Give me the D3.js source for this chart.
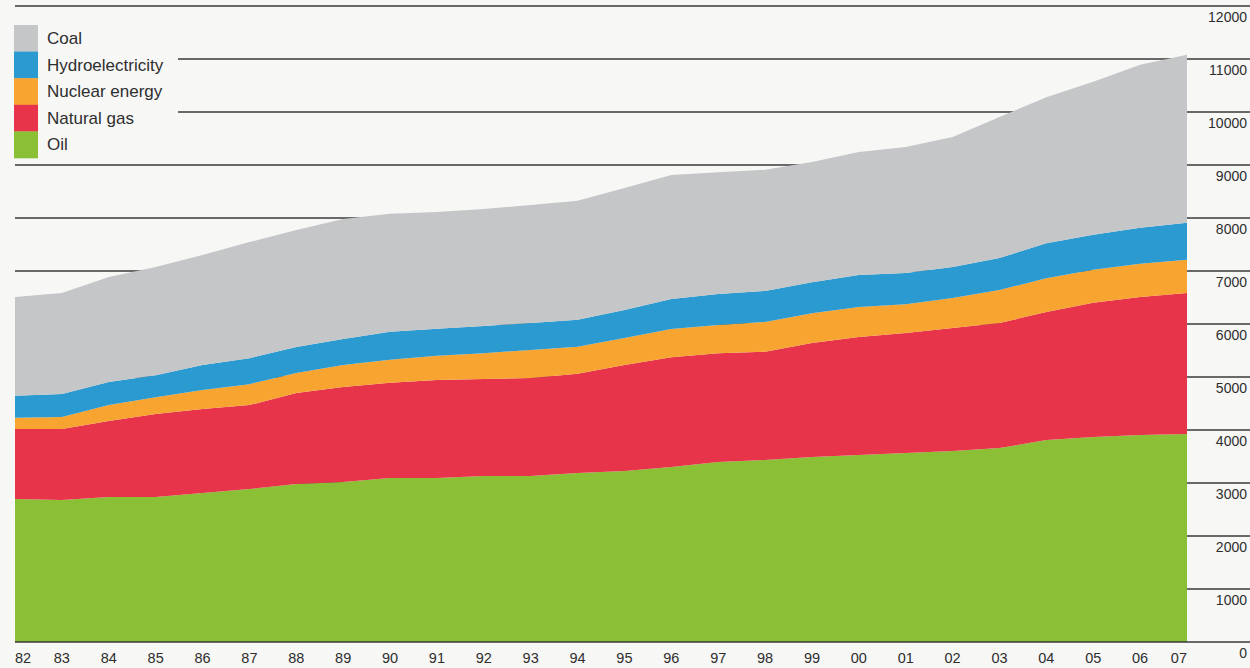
<!DOCTYPE html>
<html>
<head>
<meta charset="utf-8">
<script src="https://cdn.jsdelivr.net/npm/d3@7"></script>
<style>
  html, body { margin: 0; padding: 0; background: #f7f7f6; }
  svg { display: block; }
  text { font-family: "Liberation Sans", Arial, sans-serif; fill: #2e2e2e; }
</style>
</head>
<body>
<svg id="chart" width="1250" height="668"></svg>
<script>
// ---- data (million tonnes oil equivalent) ----
const years = [1982,1983,1984,1985,1986,1987,1988,1989,1990,1991,1992,1993,1994,1995,1996,1997,1998,1999,2000,2001,2002,2003,2004,2005,2006,2007];
const xTickLabels = ["82","83","84","85","86","87","88","89","90","91","92","93","94","95","96","97","98","99","00","01","02","03","04","05","06","07"];
const oil     = [2700,2680,2735,2735,2810,2885,2980,3020,3095,3095,3130,3130,3190,3225,3300,3395,3435,3490,3530,3565,3605,3660,3810,3870,3905,3925];
const natGas  = [1320,1340,1435,1565,1585,1585,1720,1790,1795,1850,1830,1850,1870,2000,2075,2055,2040,2150,2225,2265,2320,2360,2415,2530,2605,2660];
const nuclear = [210,225,300,320,360,395,375,415,435,455,490,530,510,510,530,530,565,565,565,545,565,620,640,625,625,625];
const hydro   = [415,435,435,415,470,490,490,490,530,510,510,510,510,530,565,585,585,585,605,585,585,605,660,660,680,700];
const coal    = [1865,1905,1980,2040,2075,2190,2210,2265,2225,2205,2210,2225,2245,2300,2340,2300,2285,2265,2320,2380,2455,2660,2755,2885,3075,3170];
const yTicks  = [0,1000,2000,3000,4000,5000,6000,7000,8000,9000,10000,11000,12000];
const seriesKeys   = ["Oil","Natural gas","Nuclear energy","Hydroelectricity","Coal"];
const seriesColors = ["#8bbf36","#e8344b","#f7a431","#2b9ad1","#c4c6c8"];
const legendOrder  = ["Coal","Hydroelectricity","Nuclear energy","Natural gas","Oil"];

// ---- build table ----
const seriesValues = {"Oil": oil, "Natural gas": natGas, "Nuclear energy": nuclear, "Hydroelectricity": hydro, "Coal": coal};
const table = years.map((yr, i) => {
  const row = {year: yr};
  seriesKeys.forEach(k => row[k] = seriesValues[k][i]);
  return row;
});
const colorOf = d3.scaleOrdinal().domain(seriesKeys).range(seriesColors);

const svg = d3.select("#chart");
const W = 1250, H = 668;
const x = d3.scaleLinear().domain([years[0], years[years.length-1]]).range([15, 1187]);
const y = d3.scaleLinear().domain([0, 12000]).range([642, 6]);

// gridlines
svg.append("g").selectAll("line").data(yTicks.filter(t => t > 0)).join("line")
  .attr("x1", 15).attr("x2", W)
  .attr("y1", d => y(d)).attr("y2", d => y(d))
  .attr("stroke", "#3a3a3a").attr("stroke-width", 1.3);

// legend box (covers gridlines behind it)
svg.append("rect").attr("x", 0).attr("y", 16).attr("width", 178).attr("height", 146)
  .attr("fill", "#f7f7f6");

// stacked areas
const stack = d3.stack().keys(seriesKeys);
const layers = stack(table);
const area = d3.area()
  .x(d => x(d.data.year))
  .y0(d => y(d[0]))
  .y1(d => y(d[1]));
svg.append("g").selectAll("path").data(layers).join("path")
  .attr("d", area)
  .attr("fill", d => colorOf(d.key));

// baseline
svg.append("line").attr("x1", 15).attr("x2", W).attr("y1", y(0)).attr("y2", y(0))
  .attr("stroke", "#3a3a3a").attr("stroke-width", 1.3);

// y labels (right side, under each line)
svg.append("g").selectAll("text").data(yTicks).join("text")
  .attr("x", 1247).attr("y", d => y(d) + 16)
  .attr("text-anchor", "end")
  .attr("font-size", 14)
  .text(d => d);

// x labels
svg.append("g").selectAll("text").data(years).join("text")
  .attr("x", d => x(d))
  .attr("y", 663)
  .attr("text-anchor", (d, i) => i === 0 ? "start" : (i === years.length - 1 ? "end" : "middle"))
  .attr("font-size", 14.5)
  .text((d, i) => xTickLabels[i]);

// legend
const lg = svg.append("g");
const sw = 26.6;
lg.selectAll("rect").data(legendOrder).join("rect")
  .attr("x", 14).attr("y", (d, i) => 25 + i * sw)
  .attr("width", 24).attr("height", sw + 0.3)
  .attr("fill", d => colorOf(d));
lg.selectAll("text").data(legendOrder).join("text")
  .attr("x", 47).attr("y", (d, i) => 25 + i * sw + 19)
  .attr("font-size", 17)
  .text(d => d);
</script>
</body>
</html>
